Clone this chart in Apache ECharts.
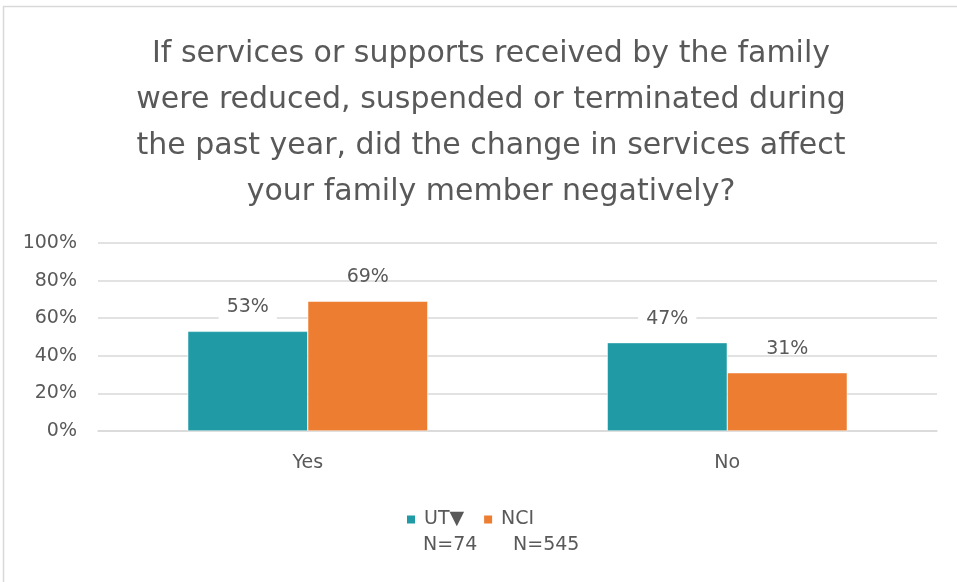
<!DOCTYPE html>
<html><head><meta charset="utf-8">
<script src="https://cdn.jsdelivr.net/npm/echarts@6/dist/echarts.min.js"></script>
<style>html,body{margin:0;padding:0;background:#fff}#c{width:957px;height:582px}</style>
</head><body><div id="c"></div>
<script>
var titleText = 'If services or supports received by the family\nwere reduced, suspended or terminated during\nthe past year, did the change in services affect\nyour family member negatively?';
var categories = ['Yes', 'No'];
var seriesNames = ['UT\u25BC', 'NCI'];
var seriesN = ['N=74', 'N=545'];
var utValues = [53, 47];
var nciValues = [69, 31];
var yTicks = [0, 20, 40, 60, 80, 100];
var colors = ['#209BA6', '#ED7D31'];
var FONT = 'DejaVu Sans';

var chart = echarts.init(document.getElementById('c'));
function labelCfg(withBg) {
  return {
    show: true, position: 'top', distance: withBg ? 11 : 13,
    formatter: function (p) { return p.value + '%'; },
    color: '#595959', fontSize: 19, fontFamily: FONT, lineHeight: 22,
    backgroundColor: withBg ? '#fff' : 'transparent', padding: withBg ? [2, 8] : 0
  };
}
chart.setOption({
  animation: false,
  color: colors,
  title: {
    text: titleText, left: 486, top: 26, textAlign: 'center',
    textStyle: { color: '#595959', fontSize: 30, fontWeight: 'normal', fontFamily: FONT, lineHeight: 46 }
  },
  grid: { left: 98, right: 20, top: 243, bottom: 151, containLabel: false },
  xAxis: {
    type: 'category', data: categories,
    axisLine: { lineStyle: { color: '#d9d9d9', width: 1.5 } },
    axisTick: { show: false },
    axisLabel: { color: '#595959', fontSize: 19, fontFamily: FONT, margin: 23 }
  },
  yAxis: {
    type: 'value', min: yTicks[0], max: yTicks[yTicks.length - 1], interval: 20,
    axisLine: { show: false }, axisTick: { show: false },
    splitLine: { lineStyle: { color: '#d9d9d9', width: 1.5 } },
    axisLabel: { color: '#595959', fontSize: 19, fontFamily: FONT, margin: 21, formatter: '{value}%' }
  },
  legend: {
    data: seriesNames, left: 400, top: 505, itemWidth: 10, itemHeight: 10, itemGap: 18,
    icon: 'rect',
    textStyle: { color: '#595959', fontSize: 19, fontFamily: FONT, padding: [0, 0, 0, 3] }
  },
  graphic: [
    { type: 'rect', shape: { x: 3.5, y: 6.5, width: 990, height: 700 }, style: { fill: 'none', stroke: '#d9d9d9', lineWidth: 1.5 }, silent: true, z: -1 },
    { type: 'text', left: 423, top: 536, style: { text: seriesN[0], fill: '#595959', font: '19px "DejaVu Sans"' } },
    { type: 'text', left: 513, top: 536, style: { text: seriesN[1], fill: '#595959', font: '19px "DejaVu Sans"' } }
  ],
  series: [
    { name: seriesNames[0], type: 'bar', data: utValues, barWidth: 120, barGap: '0%', label: labelCfg(true),
      itemStyle: { borderColor: '#fff', borderWidth: 0.5 } },
    { name: seriesNames[1], type: 'bar', data: nciValues, barWidth: 120, label: labelCfg(false),
      itemStyle: { borderColor: '#fff', borderWidth: 0.5 } }
  ]
});
</script></body></html>
